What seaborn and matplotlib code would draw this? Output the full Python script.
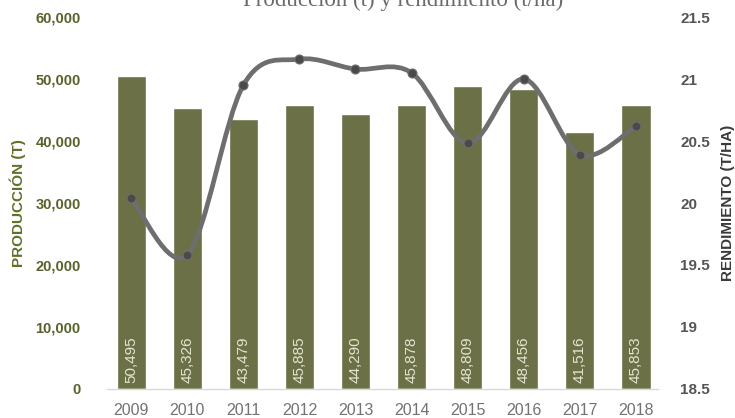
import numpy as np
import pandas as pd
import matplotlib
matplotlib.use("Agg")
import matplotlib.pyplot as plt
from matplotlib.path import Path
from matplotlib.patches import PathPatch
from matplotlib.ticker import FuncFormatter
import seaborn as sns

# Production (t) and yield (t/ha) by year
years = ["2009", "2010", "2011", "2012", "2013", "2014", "2015", "2016", "2017", "2018"]
produccion = [50495, 45326, 43479, 45885, 44290, 45878, 48809, 48456, 41516, 45853]
rendimiento = [20.04, 19.58, 20.95, 21.16, 21.08, 21.05, 20.48, 21.00, 20.39, 20.62]
prod_ticks = [0, 10000, 20000, 30000, 40000, 50000, 60000]
rend_ticks = [18.5, 19, 19.5, 20, 20.5, 21, 21.5]

BAR = "#6b7046"
LINE = "#6e6e6e"
MARK = "#4a4a4a"
OLIVE_TXT = "#55632a"
GREY_TXT = "#555555"

sns.set_theme(style="white")
plt.rcParams["font.family"] = ["Liberation Sans", "DejaVu Sans"]

df = pd.DataFrame({"year": years, "prod": produccion, "rend": rendimiento})

fig = plt.figure(figsize=(7.35, 4.18), dpi=100)
ax = fig.add_axes([0.1456, 0.0694, 0.7494, 0.8899])

sns.barplot(data=df, x="year", y="prod", color=BAR, saturation=1,
            width=0.52, ax=ax, zorder=2)
ax.set_xlim(-0.43, 9.39)
ax.set_ylim(0, 60000)
ax.set_yticks(prod_ticks)
ax.yaxis.set_major_formatter(FuncFormatter(lambda v, p: f"{int(v):,}"))
for lab in ax.get_yticklabels():
    lab.set_fontweight("bold")
    lab.set_color(OLIVE_TXT)
    lab.set_fontsize(10.5)
ax.tick_params(axis="y", length=0, pad=19)
ax.tick_params(axis="x", length=0, pad=10, labelsize=11.5, labelcolor="#727272")
ax.set_xlabel("")
ax.set_ylabel("PRODUCCIÓN (T)", fontsize=11, fontweight="bold",
              color="#5f7228", labelpad=7)
for s in ["left", "right", "top"]:
    ax.spines[s].set_visible(False)
ax.spines["bottom"].set_color("#d9d9d9")
ax.spines["bottom"].set_linewidth(1)
ax.grid(False)

# value labels written vertically inside each bar
for i, v in enumerate(produccion):
    ax.text(i, 950, f"{v:,}", rotation=90, ha="center", va="bottom",
            color="#e4e6d2", fontsize=11, zorder=3)

# yield on the secondary axis with a smoothed curve
ax2 = ax.twinx()
ax2.set_ylim(18.5, 21.5)
ax2.set_yticks(rend_ticks)
ax2.set_yticklabels([f"{t:g}" for t in rend_ticks], fontsize=11,
                    fontweight="bold", color=GREY_TXT)
ax2.tick_params(axis="y", length=0, pad=16)
for s in ["left", "right", "top", "bottom"]:
    ax2.spines[s].set_visible(False)
ax2.grid(False)
ax2.set_ylabel("RENDIMIENTO (T/HA)", fontsize=11, fontweight="bold",
               color="#3a3a3a", labelpad=8)

xs = np.arange(len(rendimiento), dtype=float)
ys = np.asarray(rendimiento, dtype=float)
verts = [(xs[0], ys[0])]
codes = [Path.MOVETO]
t = 1.0 / 6.0
for i in range(len(xs) - 1):
    p0 = np.array([xs[max(i - 1, 0)], ys[max(i - 1, 0)]])
    p1 = np.array([xs[i], ys[i]])
    p2 = np.array([xs[i + 1], ys[i + 1]])
    p3 = np.array([xs[min(i + 2, len(xs) - 1)], ys[min(i + 2, len(xs) - 1)]])
    c1 = p1 + (p2 - p0) * t
    c2 = p2 - (p3 - p1) * t
    verts += [tuple(c1), tuple(c2), tuple(p2)]
    codes += [Path.CURVE4] * 3
ax2.add_patch(PathPatch(Path(verts, codes), facecolor="none", edgecolor=LINE,
                        lw=3.4, capstyle="round", joinstyle="round", zorder=4))
sns.scatterplot(x=xs, y=ys, ax=ax2, color=MARK, s=42, edgecolor=LINE,
                linewidth=0.8, zorder=5, legend=False)
ax2.set_xlim(-0.43, 9.39)

fig.text(0.548, 1.0, "Producción (t) y rendimiento (t/ha)", ha="center",
         va="center", fontsize=16.5, color="#6a6a6a",
         family=["Liberation Serif", "DejaVu Serif"])

fig.savefig("out.png", dpi=100)
